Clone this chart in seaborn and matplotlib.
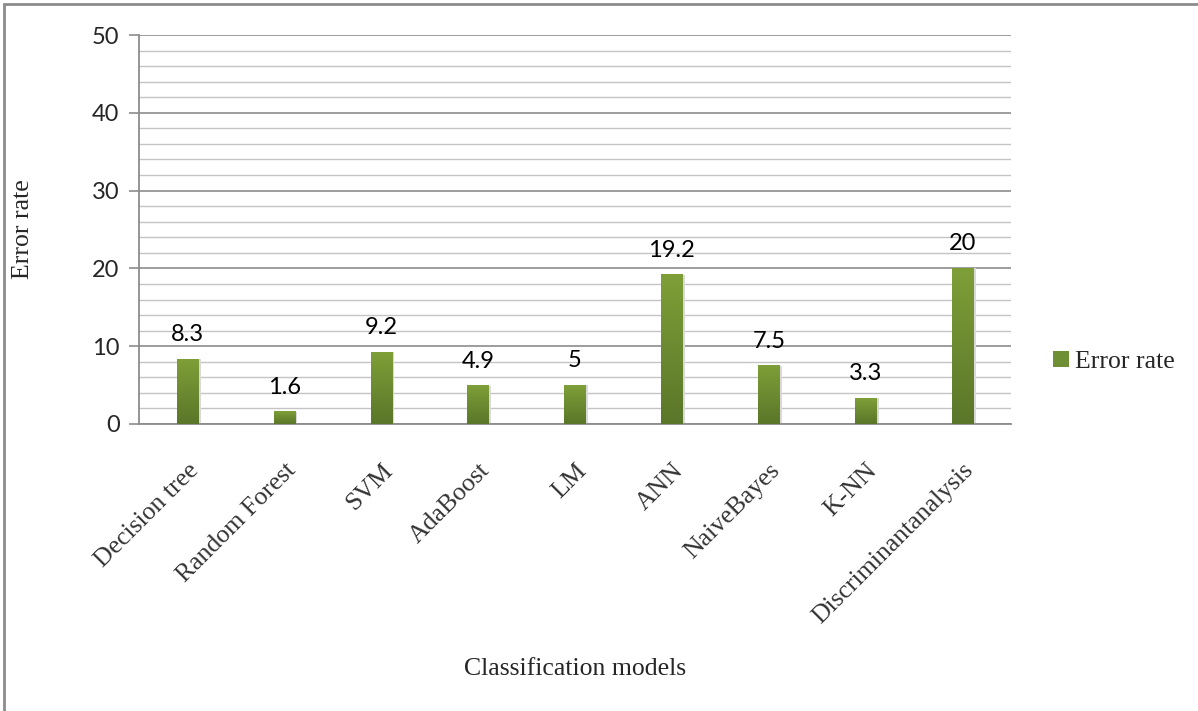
import numpy as np
import pandas as pd
import matplotlib
matplotlib.use("Agg")
import matplotlib.pyplot as plt
import seaborn as sns
from matplotlib.colors import LinearSegmentedColormap
from matplotlib.patches import Rectangle
from matplotlib.lines import Line2D

models = ["Decision tree", "Random Forest", "SVM", "AdaBoost", "LM", "ANN",
          "NaiveBayes", "K-NN", "Discriminantanalysis"]
error_rate = [8.3, 1.6, 9.2, 4.9, 5, 19.2, 7.5, 3.3, 20]
value_labels = ["8.3", "1.6", "9.2", "4.9", "5", "19.2", "7.5", "3.3", "20"]

df = pd.DataFrame({"model": models, "err": error_rate})

sns.set_style("white")
plt.rcParams["font.family"] = ["Liberation Serif", "DejaVu Serif"]
SANS = ["Lato", "DejaVu Sans"]

fig = plt.figure(figsize=(11.98, 7.11), dpi=100)
ax = fig.add_axes([139 / 1198, 1 - 424 / 711, (1011 - 139) / 1198, (424 - 35) / 711])

sns.barplot(data=df, x="model", y="err", ax=ax, color="#6e8f33", width=0.22,
            saturation=1, zorder=3)

# vertical green gradient fill on every bar
green = LinearSegmentedColormap.from_list("grn", ["#5a7629", "#7e9f38"])
grad = np.linspace(0, 1, 256).reshape(-1, 1)
for p in ax.patches:
    x0, w, h = p.get_x(), p.get_width(), p.get_height()
    # soft shadow to the right
    ax.add_patch(Rectangle((x0 + w, 0), 0.025, h, facecolor="#d9d9d9",
                           edgecolor="none", zorder=2.5))
    ax.imshow(grad, cmap=green, origin="lower", aspect="auto",
              extent=[x0, x0 + w, 0, h], zorder=3.5)
    p.set_visible(False)

for i, (v, lab) in enumerate(zip(error_rate, value_labels)):
    ax.text(i, v + 1.8, lab, ha="center", va="bottom", fontsize=17,
            family=SANS, color="black", zorder=5)

ax.set_xlim(-0.5, 8.5)
ax.set_ylim(0, 50)
ax.set_yticks(np.arange(0, 51, 10))
ax.set_yticks(np.arange(0, 51, 2), minor=True)
ax.grid(which="minor", axis="y", color="#c4c4c4", lw=1.0, zorder=0)
ax.grid(which="major", axis="y", color="#8c8c8c", lw=1.2, zorder=1)
ax.grid(axis="x", visible=False)

for s in ["top", "right"]:
    ax.spines[s].set_visible(False)
ax.spines["left"].set_color("#8c8c8c")
ax.spines["left"].set_linewidth(1.3)
ax.spines["bottom"].set_color("#8c8c8c")
ax.spines["bottom"].set_linewidth(1.3)

ax.tick_params(axis="y", which="major", left=True, length=7, width=1.2,
               color="#8c8c8c", pad=7, labelsize=17)
ax.tick_params(axis="y", which="minor", left=False)
ax.tick_params(axis="x", bottom=False, pad=22)
for t in ax.get_yticklabels():
    t.set_family(SANS)

ax.set_xticks(range(len(models)))
ax.set_xticklabels(models, rotation=45, ha="right", rotation_mode="anchor",
                   fontsize=18.5, color="#333333")

ax.set_xlabel("Classification models", fontsize=18.5, labelpad=0)
ax.xaxis.set_label_coords(0.5, -(658 - 424) / (424 - 35))
ax.set_ylabel("Error rate", fontsize=18.5)
ax.yaxis.set_label_coords(-(139 - 34) / (1011 - 139), 0.5)

handle = Rectangle((0, 0), 1, 1, facecolor="#6e8f33", edgecolor="none")
fig.legend([handle], ["Error rate"], loc="center left",
           bbox_to_anchor=(1053 / 1198, 1 - 362 / 711), frameon=False,
           fontsize=18.5, handlelength=0.62, handleheight=0.62,
           handletextpad=0.25, borderpad=0, borderaxespad=0)

# border lines along the top and left edges of the figure
fig.add_artist(Line2D([0.003, 0.003], [0.0, 0.994], transform=fig.transFigure,
                      color="#8c8c8c", lw=2))
fig.add_artist(Line2D([0.003, 1.0], [0.994, 0.994], transform=fig.transFigure,
                      color="#8c8c8c", lw=2))

fig.savefig("out.png", dpi=100)
